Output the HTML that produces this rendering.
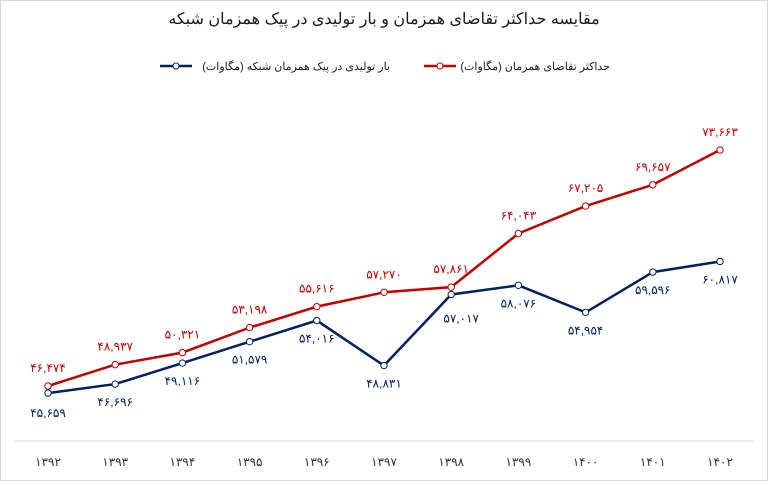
<!DOCTYPE html>
<html><head><meta charset="utf-8">
<style>
body{margin:0;background:#fff;}
svg text{font-family:"Liberation Sans","Noto Sans CJK SC",sans-serif;}
</style></head>
<body>
<svg id="chart" width="768" height="481" xmlns="http://www.w3.org/2000/svg">
<rect x="0.5" y="0.5" width="767" height="480" fill="#fff" stroke="#d9d9d9"/>
<text x="384" y="24" text-anchor="middle" font-size="16" fill="#1a1a1a" direction="rtl">مقایسه حداکثر تقاضای همزمان و بار تولیدی در  پیک همزمان شبکه</text>
<g>
<line x1="424" y1="66" x2="456" y2="66" stroke="#c00000" stroke-width="2.5"/>
<circle cx="440" cy="66" r="3" fill="#fff" stroke="#c00000"/>
<text x="610" y="70" text-anchor="start" font-size="11" fill="#1a1a1a" direction="rtl">حداکثر تقاضای همزمان (مگاوات)</text>
</g>
<g>
<line x1="160" y1="66" x2="192" y2="66" stroke="#002060" stroke-width="2.5"/>
<circle cx="176" cy="66" r="3" fill="#fff" stroke="#002060"/>
<text x="390" y="70" text-anchor="start" font-size="11" fill="#1a1a1a" direction="rtl">بار تولیدی در پیک همزمان شبکه (مگاوات)</text>
</g>
<line x1="14" y1="441" x2="754" y2="441" stroke="#d9d9d9"/>
<g id="plot"></g>
</svg>
<script>
const categories=["۱۳۹۲","۱۳۹۳","۱۳۹۴","۱۳۹۵","۱۳۹۶","۱۳۹۷","۱۳۹۸","۱۳۹۹","۱۴۰۰","۱۴۰۱","۱۴۰۲"];
const demandValues=[46474,48937,50321,53198,55616,57270,57861,64043,67205,69657,73663];
const generationValues=[45659,46696,49116,51579,54016,48831,57017,58076,54954,59596,60817];
const demandLabels=["۴۶,۴۷۴","۴۸,۹۳۷","۵۰,۳۲۱","۵۳,۱۹۸","۵۵,۶۱۶","۵۷,۲۷۰","۵۷,۸۶۱","۶۴,۰۴۳","۶۷,۲۰۵","۶۹,۶۵۷","۷۳,۶۶۳"];
const generationLabels=["۴۵,۶۵۹","۴۶,۶۹۶","۴۹,۱۱۶","۵۱,۵۷۹","۵۴,۰۱۶","۴۸,۸۳۱","۵۷,۰۱۷","۵۸,۰۷۶","۵۴,۹۵۴","۵۹,۵۹۶","۶۰,۸۱۷"];
const NS="http://www.w3.org/2000/svg";
const plot=document.getElementById('plot');
function xPos(i){return 48+i*67.2;}
function yPos(v){return 386-(v-46474)*0.00868;}
function mk(tag,attrs){const e=document.createElementNS(NS,tag);for(const k in attrs)e.setAttribute(k,attrs[k]);plot.appendChild(e);return e;}
function series(vals,labels,color,name,above){
  const pts=vals.map((v,i)=>xPos(i)+","+yPos(v)).join(" ");
  const pl=mk('polyline',{points:pts,fill:'none',stroke:color,'stroke-width':2.5});
  
  
  vals.forEach((v,i)=>{
    const c=mk('circle',{cx:xPos(i),cy:yPos(v),r:3.2,fill:'#fff',stroke:color,'stroke-width':1});
    
    
    let lx=xPos(i),ly=above?yPos(v)-14:yPos(v)+22;
    if(!above&&i===6){lx+=10;ly=yPos(v)+28;}
    if(!above&&i===0){ly+=2;}
    const t=mk('text',{x:lx,y:ly,'text-anchor':'middle','font-size':12,fill:color});
    t.textContent=labels[i];
    
    
  });
}
series(demandValues,demandLabels,'#c00000','demand',true);
series(generationValues,generationLabels,'#002060','generation',false);
categories.forEach((c,i)=>{
  const t=mk('text',{x:xPos(i),y:466,'text-anchor':'middle','font-size':12,fill:'#333'});
  t.textContent=c;
  
  
});
</script>
</body></html>
